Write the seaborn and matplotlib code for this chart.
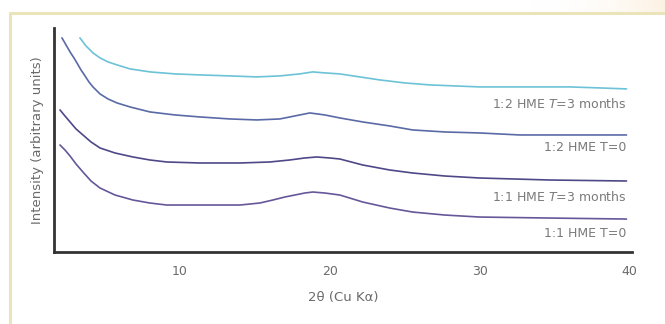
import numpy as np
import pandas as pd
import seaborn as sns
import matplotlib.pyplot as plt
from matplotlib.lines import Line2D

# 2theta / intensity (arbitrary units)
tt_11_t0 = [2.0, 2.33, 2.67, 3.07, 3.53, 4.07, 4.67, 5.67, 6.87, 8.0, 9.13, 11.33, 14.0, 15.33, 16.2,
            17.0, 17.67, 18.33, 18.87, 19.67, 20.67, 21.33, 22.2, 24.0, 25.53, 27.67, 30.0, 34.67, 39.8]
int_11_t0 = [107, 102, 96, 88, 80, 71, 64, 57, 52, 49, 47, 47, 47, 49, 52,
             55, 57, 59, 60, 59, 57, 54, 50, 44, 40, 37, 35, 34, 33]

tt_11_t3 = [2.0, 2.33, 2.67, 3.07, 3.53, 4.07, 4.67, 5.67, 6.87, 8.0, 9.13, 11.33, 14.0, 16.0, 17.33,
            18.33, 19.13, 20.0, 20.67, 22.2, 24.0, 25.53, 27.67, 30.0, 34.67, 39.8]
int_11_t3 = [142, 136, 130, 123, 117, 110, 104, 99, 95, 92, 90, 89, 89, 90, 92,
             94, 95, 94, 93, 87, 82, 79, 76, 74, 72, 71]

tt_12_t0 = [2.13, 2.4, 2.67, 2.93, 3.13, 3.4, 3.67, 3.93, 4.2, 4.67, 5.2, 5.8, 6.67, 8.0, 9.67, 11.33,
            13.33, 15.13, 16.67, 17.67, 18.67, 19.67, 20.67, 22.2, 24.0, 25.53, 27.67, 30.0, 32.67, 36.0, 39.8]
int_12_t0 = [214, 207, 200, 194, 189, 182, 176, 170, 165, 158, 153, 149, 145, 140, 137, 135,
             133, 132, 133, 136, 139, 137, 134, 130, 126, 122, 120, 119, 117, 117, 117]

tt_12_t3 = [3.33, 3.73, 4.2, 4.67, 5.2, 5.8, 6.67, 8.0, 9.67, 11.33, 13.33, 15.13, 16.67, 18.0, 18.87,
            19.67, 20.67, 22.0, 23.33, 25.0, 26.67, 30.0, 33.8, 36.0, 38.0, 39.8]
int_12_t3 = [214, 206, 199, 194, 190, 187, 183, 180, 178, 177, 176, 175, 176, 178, 180,
             179, 178, 175, 172, 169, 167, 165, 165, 165, 164, 163]

labels = ['1:2 HME $\\it{T}$=3 months', '1:2 HME T=0', '1:1 HME $\\it{T}$=3 months', '1:1 HME T=0']
label_y = [148, 104, 55, 19]
colors = ['#6cc2d6', '#5a6aa6', '#4e4888', '#66579a']

series = [(tt_12_t3, int_12_t3), (tt_12_t0, int_12_t0), (tt_11_t3, int_11_t3), (tt_11_t0, int_11_t0)]
frames = []
for lab, (tt, inten) in zip(labels, series):
    frames.append(pd.DataFrame({'tt': tt, 'intensity': inten, 'sample': lab}))
df = pd.concat(frames, ignore_index=True)

sns.set_style('white')
plt.rcParams['font.family'] = ['DejaVu Sans']
plt.rcParams['mathtext.fontset'] = 'dejavusans'

fig = plt.figure(figsize=(6.65, 3.24), dpi=100)

# background: faint peach glow top right + cream frame
bg = fig.add_axes([0, 0, 1, 1], zorder=-5)
grad = np.linspace(0, 1, 200) ** 2
img = np.ones((10, 200, 3))
peach = np.array([0.99, 0.95, 0.89])
for i, g in enumerate(grad):
    img[:, i, :] = (1 - g) * np.ones(3) + g * peach
bg.imshow(img, extent=[0.80, 1.0, 0.96, 1.0], aspect='auto')
bg.set_xlim(0, 1)
bg.set_ylim(0, 1)
bg.axis('off')
fig.add_artist(Line2D([0.015, 1.0], [0.96, 0.96], color='#ebe3b9', lw=2.2))
fig.add_artist(Line2D([0.015, 0.015], [0.0, 0.96], color='#ebe3b9', lw=2.2))

ax = fig.add_axes([0.0812, 0.222, 0.8688, 0.692])
sns.lineplot(data=df, x='tt', y='intensity', hue='sample', palette=colors,
             sort=False, linewidth=1.2, legend=False, ax=ax)

for lab, y in zip(labels, label_y):
    ax.text(39.8, y, lab, ha='right', va='center', fontsize=9, color='#7a7a7a')

ax.set_xlim(1.6, 40.15)
ax.set_ylim(0, 224)
ax.set_xticks([10, 20, 30, 40])
ax.set_yticks([])
ax.tick_params(axis='x', direction='inout', length=5, width=1.2, color='#222222',
               labelsize=9, labelcolor='#6a6a6a', pad=7)
for side in ['top', 'right']:
    ax.spines[side].set_visible(False)
for side in ['left', 'bottom']:
    ax.spines[side].set_color('#333333')
    ax.spines[side].set_linewidth(2)
ax.patch.set_alpha(0)

ax.set_xlabel('2θ (Cu Kα)', fontsize=9.5, color='#6a6a6a', labelpad=9)
ax.set_ylabel('Intensity (arbitrary units)', fontsize=9.5, color='#6a6a6a', labelpad=7)

fig.savefig('out.png', dpi=100)
